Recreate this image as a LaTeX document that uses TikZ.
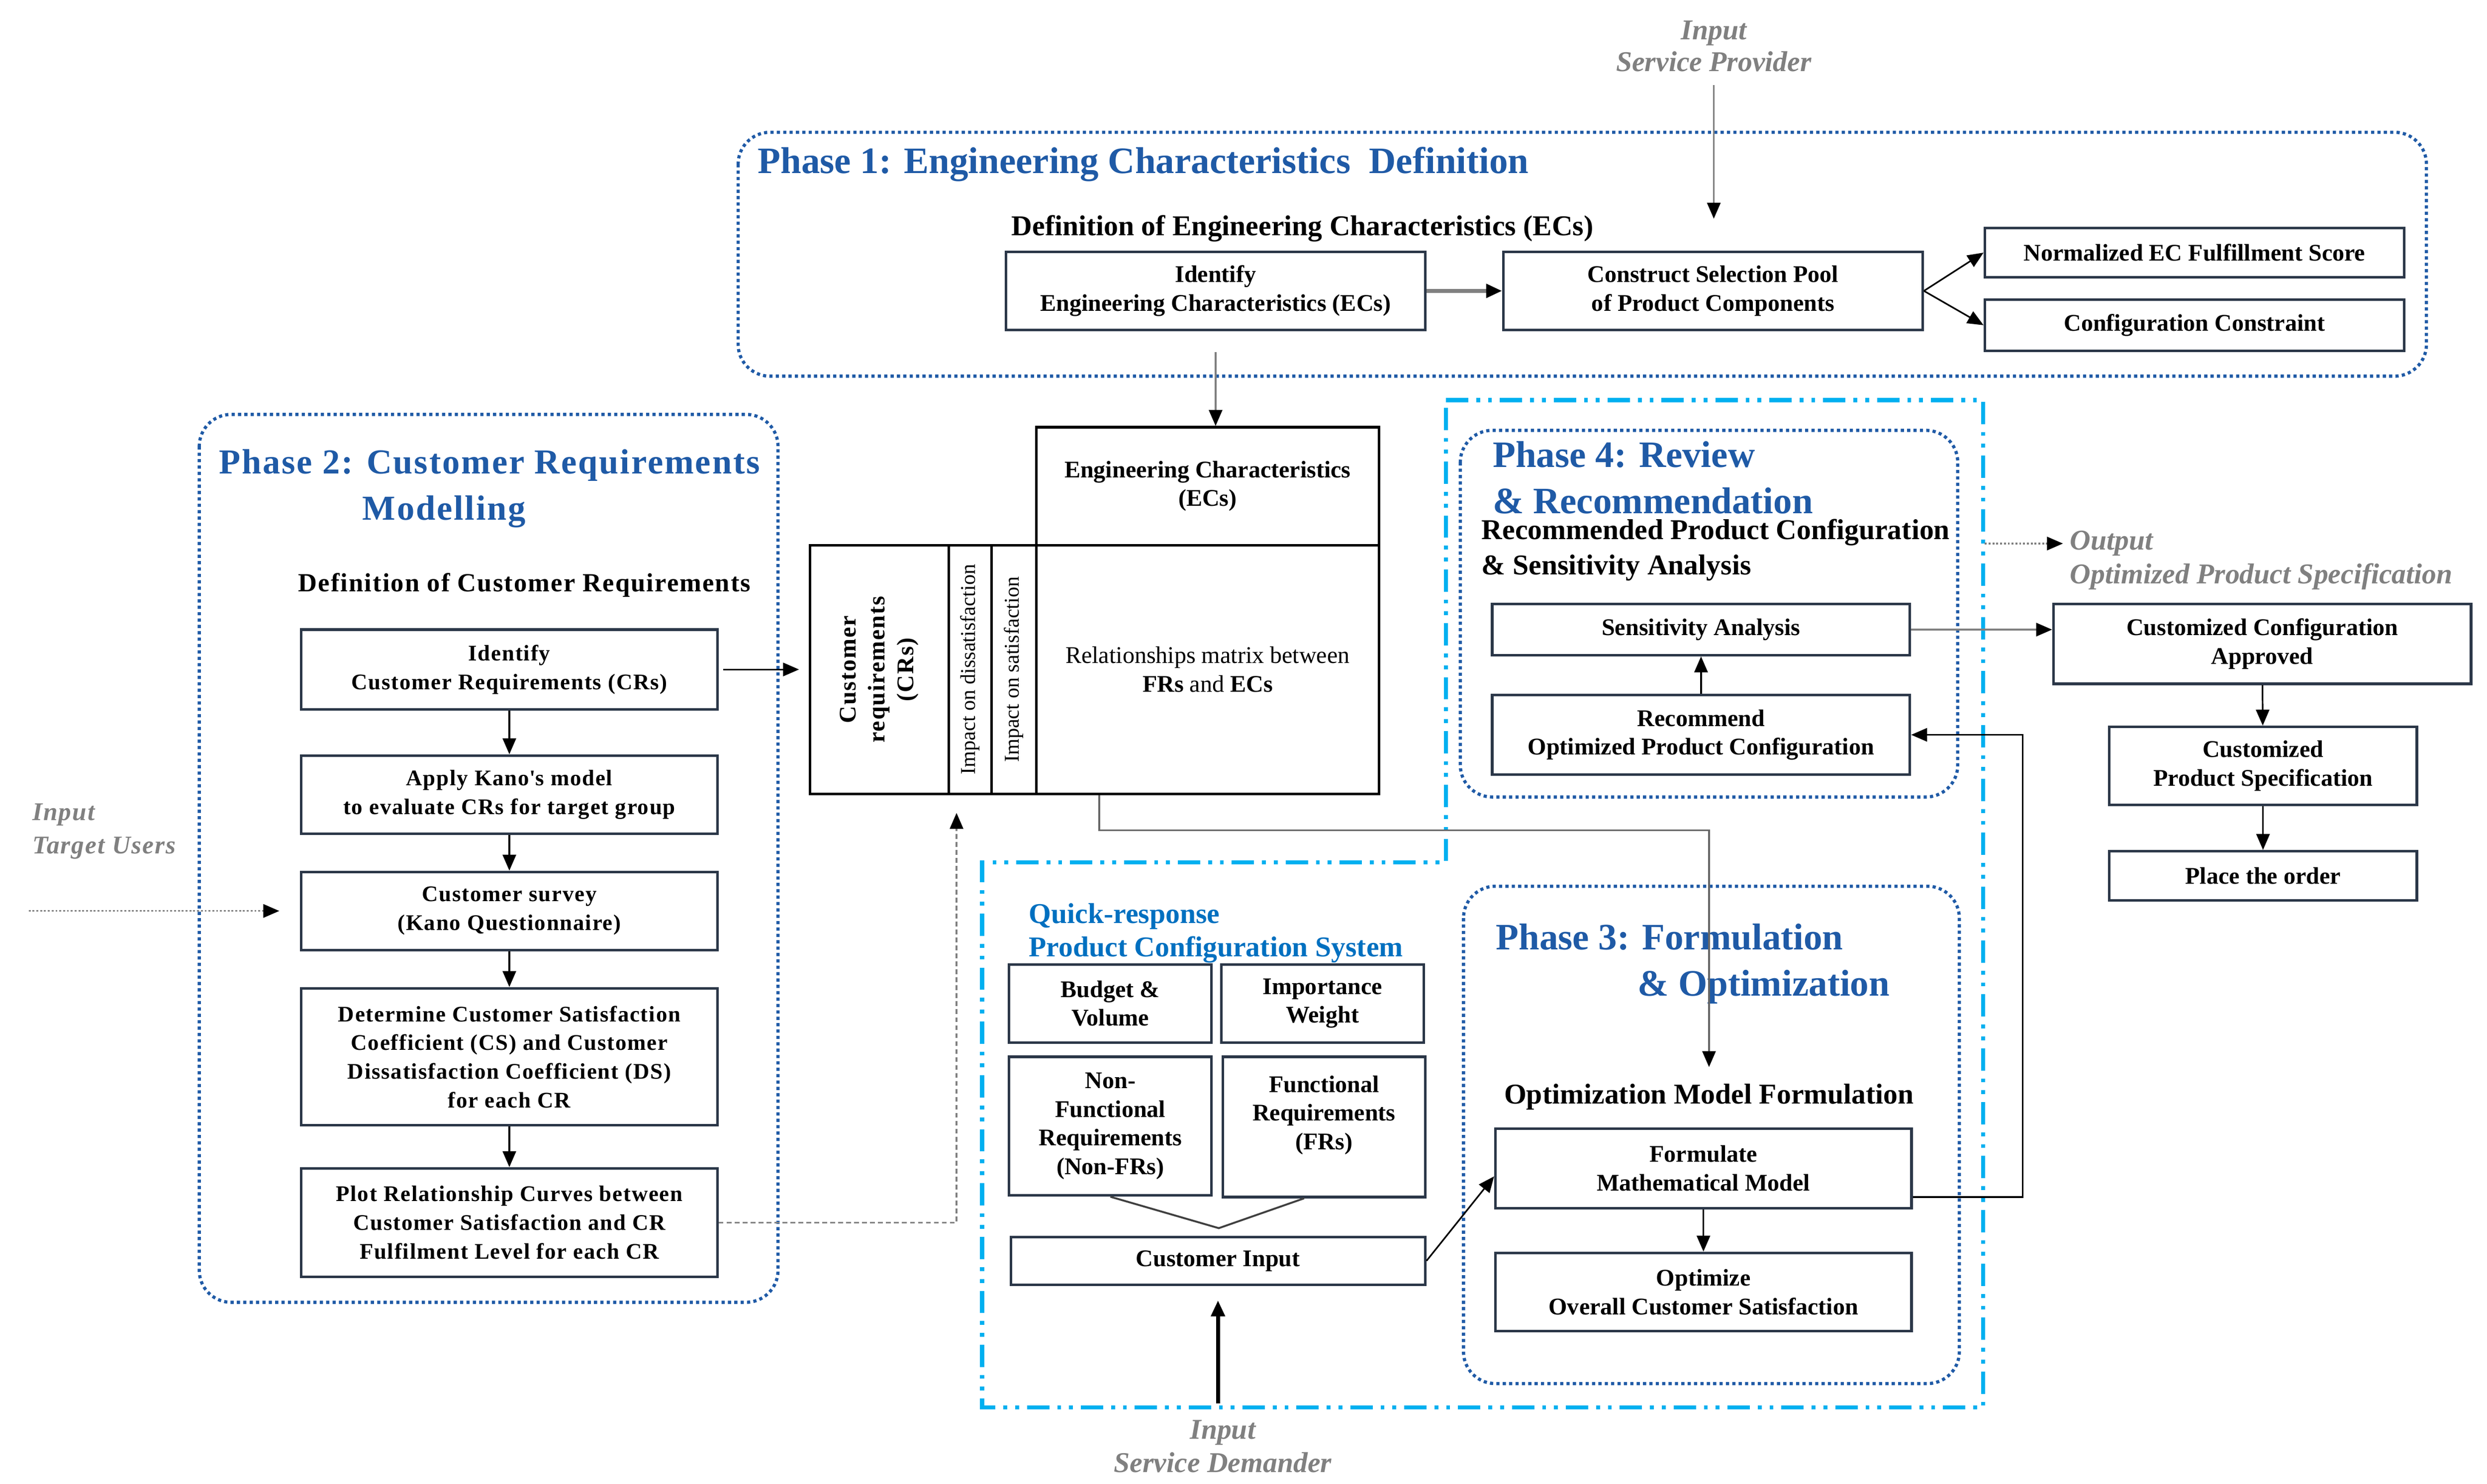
\documentclass[tikz,border=0pt]{standalone}
\usepackage{fontspec}
\setmainfont{Liberation Serif}
\newfontfamily\widefont{Liberation Serif}[LetterSpace=4]
\usetikzlibrary{arrows.meta}
\definecolor{phaseblue}{RGB}{31,90,166}
\definecolor{qrblue}{RGB}{0,112,192}
\definecolor{qrcyan}{RGB}{0,176,240}
\definecolor{boxline}{RGB}{43,55,72}
\definecolor{inputgray}{RGB}{128,128,128}

\begin{document}
\begin{tikzpicture}[x=0.5pt,y=-0.5pt,
  box/.style={draw=boxline,line width=0.8pt,fill=white,align=center,inner sep=1pt,font=\bfseries\fontsize{7.5}{9}\selectfont},
  crbox/.style={box,font=\widefont\bfseries\fontsize{7}{9}\selectfont,minimum width=130.5pt},
  cell/.style={draw=black,line width=0.8pt,align=center,inner sep=1pt},
  phase/.style={draw=phaseblue,line width=1pt,dash pattern=on 1pt off 1pt,rounded corners=10pt},
  qrzone/.style={draw=qrcyan,line width=1.3pt,dash pattern=on 7pt off 2.5pt on 1.2pt off 2.5pt on 1.2pt off 2.5pt},
  ttl/.style={text=phaseblue,font=\bfseries\fontsize{11.7}{14.5}\selectfont,align=left,inner sep=0pt},
  sub/.style={font=\bfseries\fontsize{9}{11}\selectfont,align=left,inner sep=0pt},
  inp/.style={text=inputgray,font=\bfseries\itshape\fontsize{9}{10}\selectfont,align=center,inner sep=0pt},
  arr/.style={draw=black,line width=0.5pt,-{Triangle[length=5pt,width=4.2pt,color=black]}},
  darr/.style={arr,draw=gray,dash pattern=on 0.6pt off 0.6pt}]
  \useasboundingbox (0,0) rectangle (1560,931);

  % frames
  \draw[qrzone] (907,251) -- (1244,251) -- (1244,883) -- (616,883) -- (616,541) -- (907,541) -- cycle;
  \draw[phase] (463,83) rectangle (1522,236);
  \draw[phase] (125,260) rectangle (488,817);
  \draw[phase] (918,556) rectangle (1229,868);
  \draw[phase] (916,270) rectangle (1228,500);

  % phase 1
  \node[ttl,anchor=west] (p1ttl) at (475,103) {Phase 1: Engineering Characteristics\ \ Definition};
  \node[sub] (defEC) at (817,143.5) {Definition of Engineering Characteristics (ECs)};
  \node[box,minimum width=131.5pt,minimum height=24.5pt] (idEC) at (762.5,182.5) {Identify\\Engineering Characteristics (ECs)};
  \node[box,minimum width=131.5pt,minimum height=24.5pt] (cons) at (1074.5,182.5) {Construct Selection Pool\\of Product Components};
  \node[box,minimum width=131.5pt,minimum height=15.5pt] (norm) at (1376.5,158.5) {Normalized EC Fulfillment Score};
  \node[box,minimum width=131.5pt,minimum height=16pt] (conf) at (1376.5,204) {Configuration Constraint};
  \node[inp] (spIn) at (1075,29) {Input\\Service Provider};

  % house of quality
  \node[cell,minimum width=107.5pt,minimum height=37pt,font=\bfseries\fontsize{7.5}{9}\selectfont] (ecHead) at (757.5,305) {Engineering Characteristics\\(ECs)};
  \node[cell,rotate=90,minimum width=78pt,minimum height=43.5pt,font=\widefont\bfseries\fontsize{7.5}{9}\selectfont] (crCol) at (551.5,420) {Customer\\requirements\\(CRs)};
  \node[cell,rotate=90,minimum width=78pt,minimum height=13.5pt,font=\fontsize{6.6}{8}\selectfont] (disCol) at (608.5,420) {Impact on dissatisfaction};
  \node[cell,rotate=90,minimum width=78pt,minimum height=14pt,font=\fontsize{6.6}{8}\selectfont] (satCol) at (636,420) {Impact on satisfaction};
  \node[cell,minimum width=107.5pt,minimum height=78pt,font=\fontsize{7.5}{9}\selectfont] (relM) at (757.5,420) {Relationships matrix between\\\textbf{FRs} and \textbf{ECs}};

  % phase 2
  \node[ttl,anchor=west,font=\widefont\bfseries\fontsize{11}{14.5}\selectfont] (p2ttl) at (137,306.5) {Phase 2: Customer Requirements\\\hspace*{45pt}Modelling};
  \node[sub,font=\widefont\bfseries\fontsize{8.2}{10}\selectfont] (defCR) at (329,367) {Definition of Customer Requirements};
  \node[crbox,minimum height=25pt] (crId) at (319.5,420) {Identify\\Customer Requirements (CRs)};
  \node[crbox,minimum height=24.5pt] (kano) at (319.5,498.5) {Apply Kano\textquotesingle s model\\to evaluate CRs for target group};
  \node[crbox,minimum height=24.5pt] (survey) at (319.5,571.5) {Customer survey\\(Kano Questionnaire)};
  \node[crbox,minimum height=43pt] (detCS) at (319.5,663) {Determine Customer Satisfaction\\Coefficient (CS) and Customer\\Dissatisfaction Coefficient (DS)\\for each CR};
  \node[crbox,minimum height=34pt] (plot) at (319.5,767) {Plot Relationship Curves between\\Customer Satisfaction and CR\\Fulfilment Level for each CR};
  \node[inp,anchor=west,align=left,font=\widefont\bfseries\itshape\fontsize{8}{10.5}\selectfont] (tuIn) at (20,521.5) {Input\\Target Users};
  \coordinate (tuFrom) at (18,571.5);
  \coordinate (crTip) at (600,510);

  % quick-response system
  \node[anchor=west,align=left,inner sep=0pt,text=qrblue,font=\bfseries\fontsize{9}{10.5}\selectfont] (qrTtl) at (645,585.5) {Quick-response\\Product Configuration System};
  \node[box,minimum width=63.5pt,minimum height=24.5pt] (budget) at (696.5,629.5) {Budget \&\\Volume};
  \node[box,minimum width=63.5pt,minimum height=24.5pt] (impW) at (829.5,629.5) {Importance\\Weight};
  \node[box,minimum width=63.5pt,minimum height=43.5pt] (nonFR) at (696.5,706.5) {Non-\\Functional\\Requirements\\(Non-FRs)};
  \node[box,minimum width=63.5pt,minimum height=44pt] (fr) at (830.5,707) {Functional\\Requirements\\(FRs)\\\mbox{}};
  \node[box,minimum width=130pt,minimum height=15pt] (cIn) at (764,791) {Customer Input};
  \coordinate (vTip) at (764.5,770.5);
  \node[inp,font=\bfseries\itshape\fontsize{9}{10.5}\selectfont] (sdIn) at (767,907.5) {Input\\Service Demander};

  % phase 3
  \node[ttl,anchor=west] (p3ttl) at (938,604.5) {Phase 3: Formulation\\\hspace*{44.5pt}\& Optimization};
  \node[sub] (omf) at (1072,688) {Optimization Model Formulation};
  \node[box,minimum width=130.5pt,minimum height=25pt] (form) at (1068.5,733) {Formulate\\Mathematical Model};
  \node[box,minimum width=130.5pt,minimum height=24.5pt] (opt) at (1068.5,810.5) {Optimize\\Overall Customer Satisfaction};

  % phase 4
  \node[ttl,anchor=west] (p4ttl) at (936,299.5) {Phase 4: Review\\\& Recommendation};
  \node[sub,anchor=west] (recT) at (929,345) {Recommended Product Configuration\\\& Sensitivity Analysis};
  \node[box,minimum width=131pt,minimum height=16pt] (sens) at (1067,395) {Sensitivity Analysis};
  \node[box,minimum width=131pt,minimum height=25pt] (rec) at (1067,461) {Recommend\\Optimized Product Configuration};

  % output
  \coordinate (outFrom) at (1245,341);
  \coordinate (outTo) at (1294,341);
  \node[inp,anchor=west,align=left,font=\bfseries\itshape\fontsize{9}{10.5}\selectfont] (outLbl) at (1298,351.5) {Output\\Optimized Product Specification};
  \node[box,minimum width=131pt,minimum height=25pt] (cca) at (1419,404) {Customized Configuration\\Approved};
  \node[box,minimum width=96.5pt,minimum height=24.5pt] (cps) at (1419.5,480.5) {Customized\\Product Specification};
  \node[box,minimum width=96.5pt,minimum height=15.5pt] (place) at (1419.5,549.5) {Place the order};

  % connectors
  \draw[arr,draw=gray,shorten <=4pt,shorten >=10pt] (spIn.south) -- (spIn.south |- cons.north);
  \draw[arr,draw=gray,line width=1.2pt] (idEC) -- (cons);
  \draw[arr] (cons.east) -- (norm.west);
  \draw[arr] (cons.east) -- (conf.west);
  \draw[arr,draw=gray,shorten <=6.5pt] (idEC.south) -- (idEC.south |- ecHead.north);
  \draw[arr,shorten <=1.5pt,shorten >=3pt] (crId.east) -- (crId.east -| crCol.north);
  \draw[arr] (crId) -- (kano);
  \draw[arr] (kano) -- (survey);
  \draw[arr] (survey) -- (detCS);
  \draw[arr] (detCS) -- (plot);
  \draw[darr,shorten >=6.5pt] (tuFrom) -- (tuFrom -| survey.west);
  \draw[arr,draw=gray,dash pattern=on 1.5pt off 1pt] (plot.east) -| (crTip);
  \draw[arr,draw=gray!80!black,shorten >=5pt] ([xshift=-34pt]relM.south) -- ++(0,22) -| (omf.north);
  \draw[draw=darkgray,line width=0.6pt] (nonFR.south) -- (vTip) -- ([xshift=-6.25pt]fr.south);
  \draw[arr,line width=1.2pt,shorten <=5pt,shorten >=4.5pt] (cIn.south |- sdIn.north) -- (cIn.south);
  \draw[arr] (cIn.east) -- ([yshift=-2.5pt]form.west);
  \draw[arr] (form) -- (opt);
  \draw[arr] ([yshift=-9pt]form.east) -- ++(69,0) |- (rec.east);
  \draw[arr] (rec) -- (sens);
  \draw[arr,draw=gray] (sens.east) -- (sens.east -| cca.west);
  \draw[darr] (outFrom) -- (outTo);
  \draw[arr] (cca) -- (cps);
  \draw[arr] (cps) -- (place);
\end{tikzpicture}
\end{document}
